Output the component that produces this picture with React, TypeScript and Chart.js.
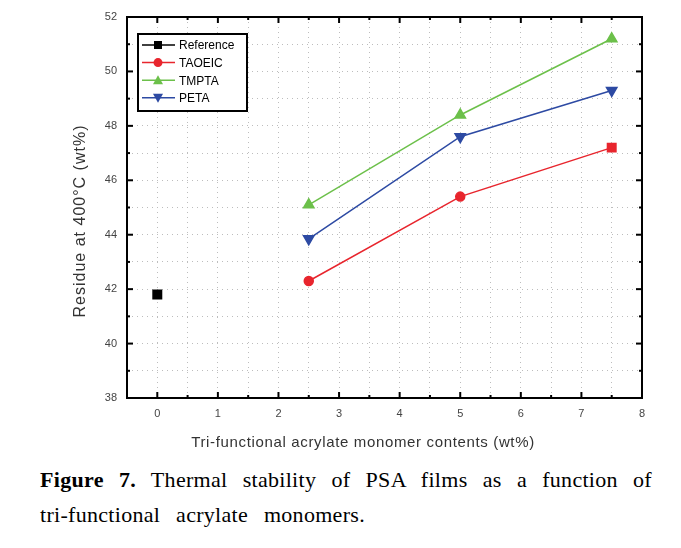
import React, { useEffect, useRef } from 'react';
import { Chart, registerables } from 'chart.js';
Chart.register(...registerables);

// ---- data ----
const seriesNames = ['Reference', 'TAOEIC', 'TMPTA', 'PETA'];
const referenceX = [0];
const referenceValues = [41.8];
const contentX = [2.5, 5, 7.5];
const taoeicValues = [42.3, 45.4, 47.2];
const tmptaValues = [45.1, 48.4, 51.2];
const petaValues = [43.85, 47.6, 49.3];
const xTickLabels = ['0', '1', '2', '3', '4', '5', '6', '7', '8'];
const yTickLabels = ['38', '40', '42', '44', '46', '48', '50', '52'];
const xTitle = 'Tri-functional acrylate monomer contents (wt%)';
const yTitle = 'Residue at 400°C (wt%)';

const colors = ['#000000', '#e8252d', '#6cc04a', '#2d4aa3'];

const toPts = (xs: number[], ys: number[]) => xs.map((x, i) => ({ x, y: ys[i] }));

const framePlugin = {
  id: 'frame',
  afterDraw(chart: any) {
    const { ctx, chartArea: a, scales } = chart;
    const x = scales.x;
    const y = scales.y;
    ctx.save();
    ctx.strokeStyle = '#000';
    ctx.lineWidth = 2;
    ctx.strokeRect(a.left, a.top, a.right - a.left, a.bottom - a.top);
    const seg = (x1: number, y1: number, x2: number, y2: number) => {
      ctx.beginPath();
      ctx.moveTo(x1, y1);
      ctx.lineTo(x2, y2);
      ctx.stroke();
    };
    for (let v = 0; v <= 8; v += 0.5) {
      const px = x.getPixelForValue(v);
      const len = Number.isInteger(v) ? 6 : 3;
      seg(px, a.bottom, px, a.bottom - len);
      seg(px, a.top, px, a.top + len);
    }
    for (let v = 38; v <= 52; v += 1) {
      const py = y.getPixelForValue(v);
      const len = v % 2 === 0 ? 6 : 3;
      seg(a.left, py, a.left + len, py);
      seg(a.right, py, a.right - len, py);
    }

    // axis titles
    ctx.fillStyle = '#333';
    ctx.textAlign = 'center';
    ctx.textBaseline = 'middle';
    ctx.font = '15px "Liberation Sans", Arial, sans-serif';
    (ctx as any).letterSpacing = '0.65px';
    ctx.fillText(xTitle, 355, 435);
    ctx.save();
    ctx.translate(73, 213);
    ctx.rotate(-Math.PI / 2);
    ctx.font = '16px "Liberation Sans", Arial, sans-serif';
    (ctx as any).letterSpacing = '1px';
    ctx.fillText(yTitle, 0, 0);
    ctx.restore();
    (ctx as any).letterSpacing = '0px';

    // legend box
    const bx = a.left + 11;
    const by = a.top + 17;
    const bw = 109;
    const bh = 77;
    ctx.fillStyle = '#fff';
    ctx.fillRect(bx, by, bw, bh);
    ctx.lineWidth = 2;
    ctx.strokeStyle = '#000';
    ctx.strokeRect(bx, by, bw, bh);
    ctx.font = '12px "Liberation Sans", Arial, sans-serif';
    ctx.textAlign = 'left';
    ctx.textBaseline = 'middle';
    chart.data.datasets.forEach((ds: any, i: number) => {
      const ry = by + 11 + i * 17.6;
      const lx1 = bx + 4;
      const lx2 = bx + 37;
      const mx = bx + 20;
      ctx.strokeStyle = ds.borderColor;
      ctx.lineWidth = 1.5;
      seg(lx1, ry, lx2, ry);
      ctx.fillStyle = ds.backgroundColor;
      const st = Array.isArray(ds.pointStyle) ? ds.pointStyle[0] : ds.pointStyle;
      const r = 5;
      ctx.beginPath();
      if (st === 'rect') {
        ctx.rect(mx - 4, ry - 4, 8, 8);
      } else if (st === 'circle') {
        ctx.arc(mx, ry, 4.5, 0, Math.PI * 2);
      } else if (ds.pointRotation === 180) {
        ctx.moveTo(mx - r, ry - r * 0.8);
        ctx.lineTo(mx + r, ry - r * 0.8);
        ctx.lineTo(mx, ry + r);
        ctx.closePath();
      } else {
        ctx.moveTo(mx - r, ry + r * 0.8);
        ctx.lineTo(mx + r, ry + r * 0.8);
        ctx.lineTo(mx, ry - r);
        ctx.closePath();
      }
      ctx.fill();
      ctx.fillStyle = '#000';
      ctx.fillText(ds.label, bx + 41, ry + 1);
    });
    ctx.restore();
  },
};

export default function App() {
  const ref = useRef<HTMLCanvasElement>(null);
  useEffect(() => {
    if (!ref.current) return;
    const tickFont = { family: '"Liberation Sans", Arial, sans-serif', size: 11 };
    const chart = new Chart(ref.current, {
      type: 'scatter',
      data: {
        datasets: [
          {
            label: seriesNames[0],
            data: toPts(referenceX, referenceValues),
            borderColor: colors[0],
            backgroundColor: colors[0],
            pointStyle: 'rect',
            pointRadius: 6,
            showLine: true,
            borderWidth: 1.5,
          },
          {
            label: seriesNames[1],
            data: toPts(contentX, taoeicValues),
            borderColor: colors[1],
            backgroundColor: colors[1],
            pointStyle: ['circle', 'circle', 'rect'],
            pointRadius: [4.5, 4.5, 6],
            showLine: true,
            borderWidth: 1.5,
          },
          {
            label: seriesNames[2],
            data: toPts(contentX, tmptaValues),
            borderColor: colors[2],
            backgroundColor: colors[2],
            pointStyle: 'triangle',
            pointRadius: 6,
            showLine: true,
            borderWidth: 1.5,
          },
          {
            label: seriesNames[3],
            data: toPts(contentX, petaValues),
            borderColor: colors[3],
            backgroundColor: colors[3],
            pointStyle: 'triangle',
            pointRotation: 180,
            pointRadius: 6,
            showLine: true,
            borderWidth: 1.5,
          },
        ] as any,
      },
      options: {
        animation: false,
        responsive: true,
        maintainAspectRatio: false,
        layout: { padding: { top: 9, right: 31, left: 0, bottom: 0 } },
        plugins: { legend: { display: false }, tooltip: { enabled: false } },
        elements: { point: { borderWidth: 0 } },
        scales: {
          x: {
            type: 'linear',
            min: -0.5,
            max: 8,
            afterFit: (s: any) => {
              s.height = 60;
              s.paddingLeft = 0;
              s.paddingRight = 0;
            },
            ticks: {
              stepSize: 0.5,
              autoSkip: false,
              maxRotation: 0,
              padding: 9,
              color: '#444',
              font: tickFont,
              callback: (v: any) => {
                const n = Number(v);
                return Number.isInteger(n) && n >= 0 ? xTickLabels[n] : '';
              },
            },
            grid: { color: '#bdbdbd', lineWidth: 1, drawTicks: false },
            border: { display: false, dash: [1, 4] },
          },
          y: {
            type: 'linear',
            min: 38,
            max: 52,
            afterFit: (s: any) => {
              s.width = 119;
              s.paddingTop = 0;
              s.paddingBottom = 0;
            },
            ticks: {
              stepSize: 1,
              autoSkip: false,
              padding: 10,
              color: '#444',
              font: tickFont,
              callback: (v: any) => {
                const n = Number(v);
                return n % 2 === 0 ? yTickLabels[(n - 38) / 2] : '';
              },
            },
            grid: { color: '#bdbdbd', lineWidth: 1, drawTicks: false },
            border: { display: false, dash: [1, 4] },
          },
        },
      } as any,
      plugins: [framePlugin],
    });
    return () => chart.destroy();
  }, []);

  return (
    <div style={{ width: 665 }}>
      <div style={{ position: 'relative', width: 665, height: 450 }}>
        <canvas ref={ref} role="img" aria-label="Residue at 400°C versus tri-functional acrylate monomer contents" />
      </div>
      <div
        style={{
          marginTop: 4,
          marginLeft: 32,
          width: 612,
          fontFamily: '"Liberation Serif", "Times New Roman", serif',
          fontSize: 22,
          letterSpacing: 0.3,
          lineHeight: '35px',
          color: '#000',
        }}
      >
        <div style={{ textAlign: 'justify', textAlignLast: 'justify' }}>
          <b>Figure 7.</b> Thermal stability of PSA films as a function of
        </div>
        <div style={{ wordSpacing: 10 }}>tri-functional acrylate monomers.</div>
      </div>
    </div>
  );
}
